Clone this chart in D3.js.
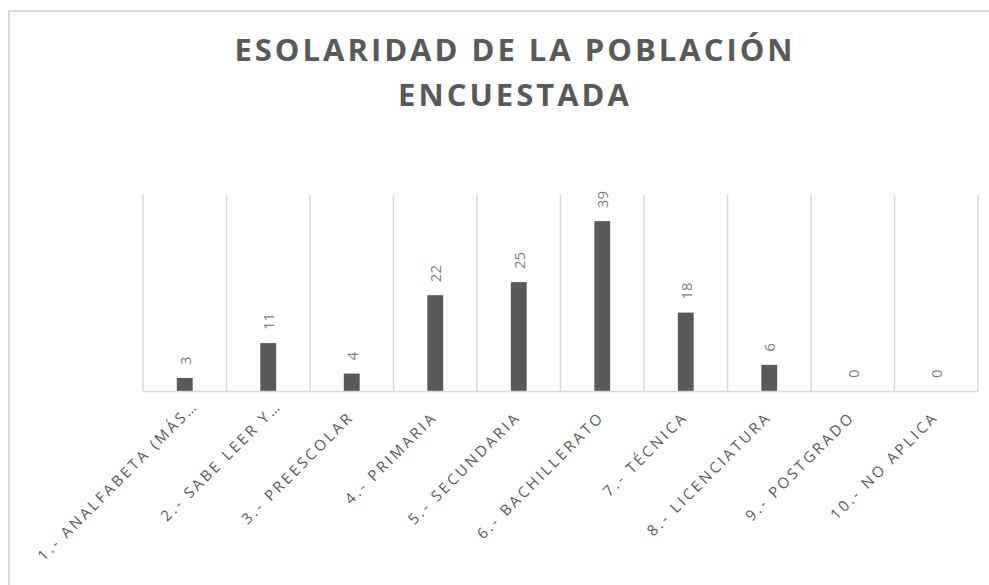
<!DOCTYPE html>
<html>
<head>
<meta charset="utf-8">
<script src="https://cdn.jsdelivr.net/npm/d3@7"></script>
<style>
  body { margin: 0; background: #fff; }
  text { font-family: "Open Sans", sans-serif; }
</style>
</head>
<body>
<div id="chart"></div>
<script>
const categories = [
  "1.- ANALFABETA (MÁS…", "2.- SABE LEER Y…", "3.- PREESCOLAR", "4.- PRIMARIA",
  "5.- SECUNDARIA", "6.- BACHILLERATO", "7.- TÉCNICA", "8.- LICENCIATURA",
  "9.- POSTGRADO", "10.- NO APLICA"
];
const values = [3, 11, 4, 22, 25, 39, 18, 6, 0, 0];
const titleLines = ["ESOLARIDAD DE LA POBLACIÓN", "ENCUESTADA"];

const svgWidth = 989, svgHeight = 585;
const margin = { top: 195, right: 11, bottom: 194, left: 143 };
const width = svgWidth - margin.left - margin.right;
const height = svgHeight - margin.top - margin.bottom;

const svg = d3.select("#chart").append("svg")
  .attr("width", svgWidth)
  .attr("height", svgHeight);

// chart frame (cut off at the right and bottom like the screenshot)
svg.append("rect")
  .attr("x", 9).attr("y", 11)
  .attr("width", 1000).attr("height", 600)
  .attr("fill", "none")
  .attr("stroke", "#d9d9d9")
  .attr("stroke-width", 2);

svg.append("text")
  .attr("x", 515)
  .attr("text-anchor", "middle")
  .attr("fill", "#595959")
  .style("font-size", "31px")
  .style("font-weight", "bold")
  .style("letter-spacing", "3px")
  .selectAll("tspan")
  .data(titleLines)
  .join("tspan")
  .attr("x", 515)
  .attr("y", (d, i) => 61 + i * 45)
  .text(d => d);

const chart = svg.append("g")
  .attr("transform", `translate(${margin.left},${margin.top})`);

const x = d3.scaleBand().domain(categories).range([0, width]).padding(0);
const y = d3.scaleLinear().domain([0, 45]).range([height, 0]);
const barW = x.bandwidth() * 0.19;

// vertical gridlines at category boundaries
chart.append("g")
  .selectAll("line")
  .data(d3.range(categories.length + 1))
  .join("line")
  .attr("x1", i => i * x.step())
  .attr("x2", i => i * x.step())
  .attr("y1", 0)
  .attr("y2", height)
  .attr("stroke", "#d9d9d9")
  .attr("stroke-width", 1.5);

chart.selectAll(".bar")
  .data(values)
  .join("rect")
  .attr("class", "bar")
  .attr("x", (d, i) => x(categories[i]) + x.bandwidth() / 2 - barW / 2)
  .attr("y", d => y(d))
  .attr("width", barW)
  .attr("height", d => height - y(d))
  .attr("fill", "#595959");

chart.selectAll(".val")
  .data(values)
  .join("text")
  .attr("class", "val")
  .attr("transform", (d, i) =>
    `translate(${x(categories[i]) + x.bandwidth() / 2 + 6},${y(d) - 13}) rotate(-90)`)
  .attr("fill", "#7f7f7f")
  .style("font-size", "15px")
  .text(d => d);

const xAxis = chart.append("g")
  .attr("transform", `translate(0,${height})`)
  .call(d3.axisBottom(x).tickSize(0).tickPadding(0));
xAxis.select(".domain").attr("stroke", "#d9d9d9").attr("stroke-width", 1.5);
// truncated labels sit a little further along the slant, like Excel does
xAxis.selectAll("text")
  .attr("fill", "#595959")
  .style("font-size", "15px")
  .style("letter-spacing", "2.8px")
  .attr("text-anchor", "end")
  .attr("dy", null)
  .attr("y", 0)
  .attr("dx", d => d.endsWith("…") ? 16 : 0)
  .attr("transform", "translate(3,27) rotate(-45)");
</script>
</body>
</html>
